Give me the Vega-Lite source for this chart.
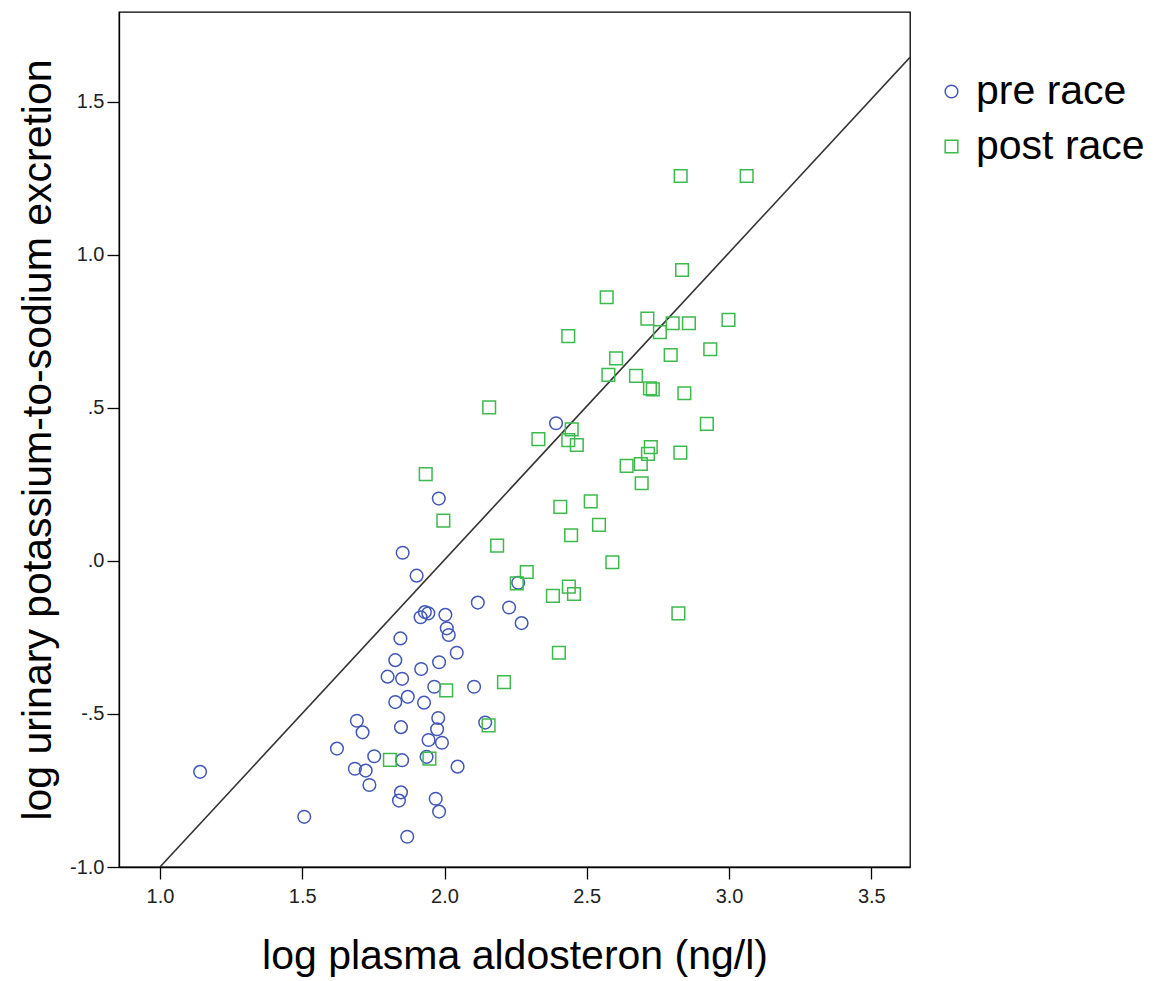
{
  "$schema": "https://vega.github.io/schema/vega-lite/v6.json",
  "autosize": "none",
  "width": 791,
  "height": 855,
  "padding": {"left": 119, "top": 12, "right": 256, "bottom": 114},
  "background": "white",
  "config": {
    "font": "Liberation Sans",
    "view": {"stroke": "#000000", "strokeWidth": 1.3},
    "axis": {
      "grid": false,
      "domainColor": "#000000",
      "domainWidth": 1.3,
      "tickColor": "#000000",
      "tickWidth": 1.3,
      "tickSize": 12,
      "labelFont": "Liberation Sans",
      "labelFontSize": 20,
      "labelColor": "#222222",
      "titleFont": "Liberation Sans",
      "titleFontSize": 41,
      "titleFontWeight": "normal",
      "titleColor": "#000000"
    }
  },
  "datasets": {
    "pts": [
      {"x": 1.141, "y": -0.689, "g": "pre race"},
      {"x": 1.507, "y": -0.836, "g": "pre race"},
      {"x": 1.622, "y": -0.613, "g": "pre race"},
      {"x": 1.853, "y": 0.027, "g": "pre race"},
      {"x": 1.902, "y": -0.048, "g": "pre race"},
      {"x": 2.392, "y": 0.45, "g": "pre race"},
      {"x": 1.98, "y": 0.204, "g": "pre race"},
      {"x": 2.259, "y": -0.071, "g": "pre race"},
      {"x": 2.117, "y": -0.136, "g": "pre race"},
      {"x": 2.227, "y": -0.152, "g": "pre race"},
      {"x": 2.271, "y": -0.203, "g": "pre race"},
      {"x": 1.916, "y": -0.184, "g": "pre race"},
      {"x": 1.943, "y": -0.171, "g": "pre race"},
      {"x": 1.931, "y": -0.167, "g": "pre race"},
      {"x": 2.003, "y": -0.176, "g": "pre race"},
      {"x": 2.008, "y": -0.22, "g": "pre race"},
      {"x": 2.015, "y": -0.242, "g": "pre race"},
      {"x": 1.845, "y": -0.253, "g": "pre race"},
      {"x": 2.043, "y": -0.3, "g": "pre race"},
      {"x": 1.827, "y": -0.324, "g": "pre race"},
      {"x": 1.981, "y": -0.331, "g": "pre race"},
      {"x": 1.918, "y": -0.353, "g": "pre race"},
      {"x": 1.8, "y": -0.378, "g": "pre race"},
      {"x": 1.851, "y": -0.385, "g": "pre race"},
      {"x": 1.964, "y": -0.411, "g": "pre race"},
      {"x": 2.104, "y": -0.411, "g": "pre race"},
      {"x": 1.827, "y": -0.461, "g": "pre race"},
      {"x": 1.871, "y": -0.444, "g": "pre race"},
      {"x": 1.928, "y": -0.463, "g": "pre race"},
      {"x": 1.692, "y": -0.522, "g": "pre race"},
      {"x": 1.712, "y": -0.56, "g": "pre race"},
      {"x": 1.847, "y": -0.543, "g": "pre race"},
      {"x": 1.978, "y": -0.513, "g": "pre race"},
      {"x": 1.974, "y": -0.55, "g": "pre race"},
      {"x": 2.143, "y": -0.528, "g": "pre race"},
      {"x": 1.944, "y": -0.585, "g": "pre race"},
      {"x": 1.991, "y": -0.594, "g": "pre race"},
      {"x": 1.753, "y": -0.638, "g": "pre race"},
      {"x": 1.851, "y": -0.651, "g": "pre race"},
      {"x": 1.937, "y": -0.64, "g": "pre race"},
      {"x": 2.046, "y": -0.672, "g": "pre race"},
      {"x": 1.685, "y": -0.679, "g": "pre race"},
      {"x": 1.723, "y": -0.685, "g": "pre race"},
      {"x": 1.736, "y": -0.732, "g": "pre race"},
      {"x": 1.847, "y": -0.756, "g": "pre race"},
      {"x": 1.84, "y": -0.783, "g": "pre race"},
      {"x": 1.969, "y": -0.777, "g": "pre race"},
      {"x": 1.981, "y": -0.819, "g": "pre race"},
      {"x": 1.869, "y": -0.901, "g": "pre race"},
      {"x": 2.185, "y": 0.05, "g": "post race"},
      {"x": 2.254, "y": -0.073, "g": "post race"},
      {"x": 2.006, "y": -0.423, "g": "post race"},
      {"x": 2.209, "y": -0.396, "g": "post race"},
      {"x": 2.155, "y": -0.537, "g": "post race"},
      {"x": 1.808, "y": -0.65, "g": "post race"},
      {"x": 1.947, "y": -0.646, "g": "post race"},
      {"x": 2.157, "y": 0.502, "g": "post race"},
      {"x": 2.447, "y": 0.43, "g": "post race"},
      {"x": 2.435, "y": 0.395, "g": "post race"},
      {"x": 2.465, "y": 0.379, "g": "post race"},
      {"x": 2.33, "y": 0.398, "g": "post race"},
      {"x": 1.934, "y": 0.284, "g": "post race"},
      {"x": 1.996, "y": 0.132, "g": "post race"},
      {"x": 2.407, "y": 0.177, "g": "post race"},
      {"x": 2.514, "y": 0.195, "g": "post race"},
      {"x": 2.543, "y": 0.118, "g": "post race"},
      {"x": 2.445, "y": 0.084, "g": "post race"},
      {"x": 2.59, "y": -0.004, "g": "post race"},
      {"x": 2.289, "y": -0.036, "g": "post race"},
      {"x": 2.437, "y": -0.084, "g": "post race"},
      {"x": 2.455, "y": -0.108, "g": "post race"},
      {"x": 2.381, "y": -0.114, "g": "post race"},
      {"x": 2.822, "y": -0.171, "g": "post race"},
      {"x": 2.402, "y": -0.3, "g": "post race"},
      {"x": 2.576, "y": 0.608, "g": "post race"},
      {"x": 2.673, "y": 0.605, "g": "post race"},
      {"x": 2.722, "y": 0.564, "g": "post race"},
      {"x": 2.732, "y": 0.561, "g": "post race"},
      {"x": 2.843, "y": 0.548, "g": "post race"},
      {"x": 2.922, "y": 0.448, "g": "post race"},
      {"x": 2.725, "y": 0.372, "g": "post race"},
      {"x": 2.715, "y": 0.35, "g": "post race"},
      {"x": 2.829, "y": 0.354, "g": "post race"},
      {"x": 2.64, "y": 0.311, "g": "post race"},
      {"x": 2.69, "y": 0.317, "g": "post race"},
      {"x": 2.693, "y": 0.254, "g": "post race"},
      {"x": 2.83, "y": 1.258, "g": "post race"},
      {"x": 3.062, "y": 1.258, "g": "post race"},
      {"x": 2.835, "y": 0.951, "g": "post race"},
      {"x": 2.57, "y": 0.862, "g": "post race"},
      {"x": 2.713, "y": 0.792, "g": "post race"},
      {"x": 2.802, "y": 0.777, "g": "post race"},
      {"x": 2.859, "y": 0.777, "g": "post race"},
      {"x": 2.998, "y": 0.788, "g": "post race"},
      {"x": 2.757, "y": 0.748, "g": "post race"},
      {"x": 2.435, "y": 0.735, "g": "post race"},
      {"x": 2.603, "y": 0.662, "g": "post race"},
      {"x": 2.795, "y": 0.673, "g": "post race"},
      {"x": 2.934, "y": 0.692, "g": "post race"}
    ],
    "fit": [
      {"x": 1.0, "y": -1.0},
      {"x": 3.636, "y": 1.646}
    ]
  },
  "layer": [
    {
      "data": {"name": "fit"},
      "mark": {"type": "line", "color": "#333333", "strokeWidth": 1.6, "clip": true},
      "encoding": {
        "x": {"field": "x", "type": "quantitative"},
        "y": {"field": "y", "type": "quantitative"}
      }
    },
    {
      "data": {"name": "pts"},
      "mark": {"type": "point", "filled": false, "size": 160, "strokeWidth": 1.5, "opacity": 1, "clip": true},
      "encoding": {
        "x": {
          "field": "x", "type": "quantitative",
          "scale": {"domain": [0.856, 3.636], "nice": false, "zero": false},
          "axis": {"values": [1, 1.5, 2, 2.5, 3, 3.5], "format": ".1f", "title": "log plasma aldosteron (ng/l)", "labelPadding": 7, "titlePadding": 30, "labelFlush": false}
        },
        "y": {
          "field": "y", "type": "quantitative",
          "scale": {"domain": [-1.0, 1.794], "nice": false, "zero": false},
          "axis": {
            "values": [-1, -0.5, 0, 0.5, 1, 1.5],
            "labelExpr": "datum.value == 0 ? '.0' : datum.value == 0.5 ? '.5' : datum.value == -0.5 ? '-.5' : datum.value == -1 ? '-1.0' : format(datum.value, '.1f')",
            "title": "log urinary potassium-to-sodium excretion",
            "labelPadding": 3,
            "titlePadding": 10,
            "labelFlush": false
          }
        },
        "color": {
          "field": "g", "type": "nominal",
          "scale": {"domain": ["pre race", "post race"], "range": ["#4257b8", "#3cba4b"]},
          "legend": {
            "title": null,
            "orient": "none",
            "legendX": 812,
            "legendY": 59,
            "padding": 0,
            "labelFontSize": 41,
            "labelFont": "Liberation Sans",
            "labelColor": "#000000",
            "labelOffset": 4,
            "labelLimit": 400,
            "rowPadding": 13,
            "symbolSize": 160,
            "symbolStrokeWidth": 1.5,
            "labelBaseline": "middle"
          }
        },
        "shape": {
          "field": "g", "type": "nominal",
          "scale": {"domain": ["pre race", "post race"], "range": ["circle", "square"]}
        }
      }
    }
  ]
}
